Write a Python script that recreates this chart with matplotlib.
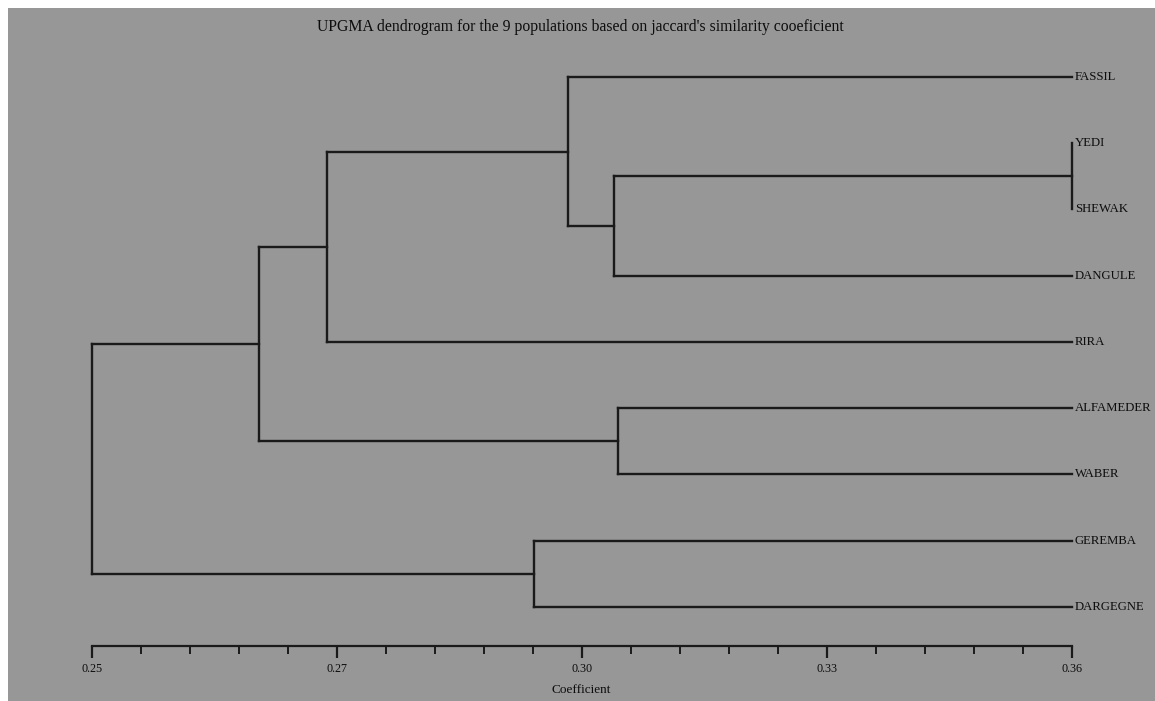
import numpy as np
import matplotlib
matplotlib.use("Agg")
import matplotlib.pyplot as plt
import matplotlib.ticker as mtick
from matplotlib.patches import Rectangle

# Populations, top to bottom as they appear in the tree
leafNames = ["FASSIL", "YEDI", "SHEWAK", "DANGULE", "RIRA",
             "ALFAMEDER", "WABER", "GEREMBA", "DARGEGNE"]

# UPGMA joins: (cluster a, cluster b, jaccard coefficient)
# clusters 0-8 are the leaves, each join makes the next new cluster (9, 10, ...)
mergeLeft = [1, 9, 0, 11, 5, 12, 7, 14]
mergeRight = [2, 3, 10, 4, 6, 13, 8, 15]
mergeHeight = [0.360, 0.3086, 0.3034, 0.2764, 0.3090, 0.2687, 0.2996, 0.2500]

tickValues = [0.25, 0.2775, 0.305, 0.3325, 0.36]
tickLabels = ["0.25", "0.27", "0.30", "0.33", "0.36"]

xMin, xMax = 0.25, 0.36

W, H = 1155, 701
plt.rcParams['font.family'] = ['Liberation Serif', 'DejaVu Serif']
fig = plt.figure(figsize=(W / 100, H / 100), dpi=100, facecolor='white')

# grey panel, small white strip at top and left
fig.patches.append(Rectangle((8 / W, 0), 1 - 8 / W, 1 - 8 / H, transform=fig.transFigure,
                             facecolor='#979797', edgecolor='none', zorder=-10))

ax = fig.add_axes([92 / W, 55 / H, 980 / W, 606 / H])
ax.set_facecolor('none')

lineColor = '#1a1a1a'
lw = 1.7

# cluster positions: x = coefficient, y = leaf row
posX = {i: xMax for i in range(len(leafNames))}
posY = {i: float(i) for i in range(len(leafNames))}

for j in range(len(mergeHeight)):
    a = mergeLeft[j]
    b = mergeRight[j]
    h = mergeHeight[j]
    new = len(leafNames) + j
    ax.plot([h, h], [posY[a], posY[b]], color=lineColor, lw=lw, clip_on=False,
            solid_capstyle='projecting')
    ax.plot([h, posX[a]], [posY[a], posY[a]], color=lineColor, lw=lw, clip_on=False)
    ax.plot([h, posX[b]], [posY[b], posY[b]], color=lineColor, lw=lw, clip_on=False)
    posX[new] = h
    posY[new] = (posY[a] + posY[b]) / 2

for i in range(len(leafNames)):
    ax.annotate(leafNames[i], (xMax, i), xytext=(2, 0), textcoords='offset points',
                va='center', ha='left', fontsize=9.2, color='#0d0d0d',
                annotation_clip=False)

ax.set_xlim(xMin, xMax)
ax.set_ylim(8.589, -0.558)

for s in ['top', 'left', 'right']:
    ax.spines[s].set_visible(False)
ax.spines['bottom'].set_linewidth(1.6)
ax.spines['bottom'].set_color(lineColor)

ax.set_yticks([])
ax.set_xticks(tickValues)
ax.set_xticklabels(tickLabels)
# 4 minor ticks between each pair of labelled ticks
ax.xaxis.set_minor_locator(mtick.FixedLocator(np.linspace(xMin, xMax, 21)))
ax.tick_params(axis='x', which='major', length=8.6, width=1.6, color=lineColor,
               labelsize=8.7, pad=4, labelcolor='#0d0d0d')
ax.tick_params(axis='x', which='minor', length=5.8, width=1.4, color=lineColor)

fig.text(580 / W, 1 - 27 / H,
         "UPGMA dendrogram for the 9 populations based on jaccard's similarity cooeficient",
         ha='center', va='center', fontsize=11.3, color='#0d0d0d')
fig.text(581 / W, 1 - 690 / H, "Coefficient", ha='center', va='center',
         fontsize=9.5, color='#0d0d0d')

fig.savefig("out.png", dpi=100, facecolor=fig.get_facecolor())
